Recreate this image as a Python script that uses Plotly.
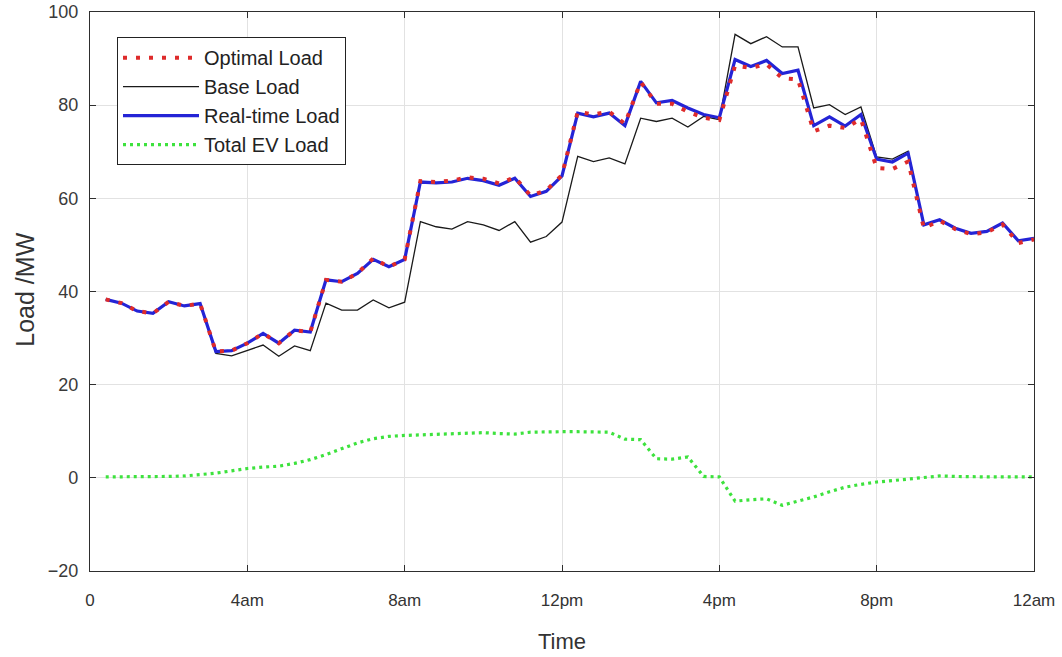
import plotly.graph_objects as go

# Sampling instants over one day (hours), one every 24 minutes
hours = [round(0.4 * k, 1) for k in range(1, 61)]

optimal_load = [38.3, 37.5, 35.8, 35.3, 37.8, 36.9, 37.4, 27.1, 27.3, 28.9,
                31.0, 28.9, 31.7, 31.3, 42.5, 42.1, 43.9, 47.1, 45.3, 46.9,
                63.7, 63.5, 63.8, 64.5, 64.2, 63.2, 64.5, 60.6, 61.7, 65.0,
                78.6, 78.0, 78.6, 76.0, 85.0, 80.3, 80.3, 78.6, 77.3, 76.8,
                88.5, 88.0, 88.8, 85.8, 85.5, 74.4, 75.6, 75.1, 77.0, 66.5,
                66.3, 67.9, 53.6, 55.2, 53.4, 52.3, 52.7, 54.4, 50.4, 51.2]

base_load = [38.3, 37.5, 35.8, 35.3, 37.8, 36.9, 37.4, 26.7, 26.2, 27.3,
             28.5, 26.1, 28.3, 27.3, 37.5, 36.0, 36.0, 38.2, 36.5, 37.7,
             55.0, 53.9, 53.4, 55.0, 54.3, 53.1, 55.0, 50.6, 51.8, 54.9,
             69.0, 67.9, 68.7, 67.4, 77.2, 76.5, 77.2, 75.3, 77.6, 76.9,
             95.2, 93.2, 94.7, 92.5, 92.5, 79.4, 80.1, 78.0, 79.6, 68.9,
             68.4, 70.1, 54.3, 55.4, 53.6, 52.5, 52.9, 54.7, 50.9, 51.4]

realtime_load = [38.3, 37.5, 35.8, 35.3, 37.8, 36.9, 37.4, 27.1, 27.3, 28.9,
                 31.0, 28.9, 31.7, 31.3, 42.5, 42.1, 43.9, 46.9, 45.3, 46.9,
                 63.5, 63.3, 63.5, 64.3, 63.8, 62.8, 64.3, 60.4, 61.5, 64.8,
                 78.3, 77.5, 78.3, 75.6, 85.1, 80.5, 81.0, 79.4, 78.0, 77.3,
                 89.8, 88.3, 89.6, 86.8, 87.5, 75.6, 77.5, 75.5, 78.0, 68.4,
                 67.8, 69.7, 54.3, 55.4, 53.6, 52.5, 52.9, 54.7, 50.9, 51.4]

ev_load = [0.2, 0.2, 0.2, 0.2, 0.3, 0.4, 0.7, 1.0, 1.5, 2.0,
           2.3, 2.5, 3.1, 3.9, 5.0, 6.2, 7.5, 8.4, 8.9, 9.1,
           9.2, 9.4, 9.5, 9.6, 9.7, 9.5, 9.4, 9.8, 9.9, 9.9,
           9.9, 9.9, 9.8, 8.3, 8.2, 4.1, 4.0, 4.5, 0.3, 0.2,
           -5.0, -4.7, -4.5, -5.9, -5.0, -4.1, -3.0, -2.0, -1.4, -0.9,
           -0.6, -0.3, 0.1, 0.4, 0.3, 0.2, 0.2, 0.2, 0.2, 0.2]

tick_hours = [0, 4, 8, 12, 16, 20, 24]
tick_text = ["0", "4am", "8am", "12pm", "4pm", "8pm", "12am"]
load_ticks = [-20, 0, 20, 40, 60, 80, 100]

regular = "Liberation Sans, Arial"

fig = go.Figure()
fig.add_trace(go.Scatter(x=hours, y=base_load, name="Base Load", mode="lines",
                         line=dict(color="#1a1a1a", width=1.3), legendrank=2))
fig.add_trace(go.Scatter(x=hours, y=realtime_load, name="Real-time Load", mode="lines",
                         line=dict(color="#2424d6", width=3.2), legendrank=3))
fig.add_trace(go.Scatter(x=hours, y=optimal_load, name="Optimal Load", mode="lines",
                         line=dict(color="#de2b2b", width=4, dash="4px,9px"), legendrank=1))
fig.add_trace(go.Scatter(x=hours, y=ev_load, name="Total EV Load", mode="lines",
                         line=dict(color="#3de23d", width=3.2, dash="3px,4px"), legendrank=4))

axis_common = dict(showgrid=True, gridcolor="#e2e2e2", gridwidth=1,
                   showline=True, linecolor="#2e2e2e", linewidth=1.4, mirror="ticks",
                   ticks="inside", ticklen=6, tickcolor="#2e2e2e", zeroline=False,
                   automargin=False)

fig.update_layout(
    width=1062, height=657,
    margin=dict(l=90, r=28, t=12, b=86),
    paper_bgcolor="white", plot_bgcolor="white",
    xaxis=dict(range=[0, 24], tickvals=tick_hours, ticktext=tick_text,
               tickfont=dict(family=regular, size=17, color="#333333"),
               ticklabelstandoff=13, **axis_common),
    yaxis=dict(range=[-20, 100], tickvals=load_ticks,
               tickfont=dict(family=regular, size=18, color="#3a3a3a"),
               ticklabelstandoff=7, **axis_common),
    legend=dict(x=0.0286, y=0.955, xanchor="left", yanchor="top",
                bgcolor="white", bordercolor="#222222", borderwidth=1,
                font=dict(family=regular, size=20, color="#222222"),
                itemwidth=76, tracegroupgap=0),
    showlegend=True,
    annotations=[
        dict(text="Load /MW", xref="paper", yref="paper", x=-0.069, y=0.503,
             textangle=-90, showarrow=False, xanchor="center", yanchor="middle",
             font=dict(family=regular, size=25, color="#333333")),
        dict(text="Time", xref="paper", yref="paper", x=0.5, y=-0.127,
             showarrow=False, xanchor="center", yanchor="middle",
             font=dict(family=regular, size=22, color="#333333")),
    ],
)

fig.write_html("out.html")
